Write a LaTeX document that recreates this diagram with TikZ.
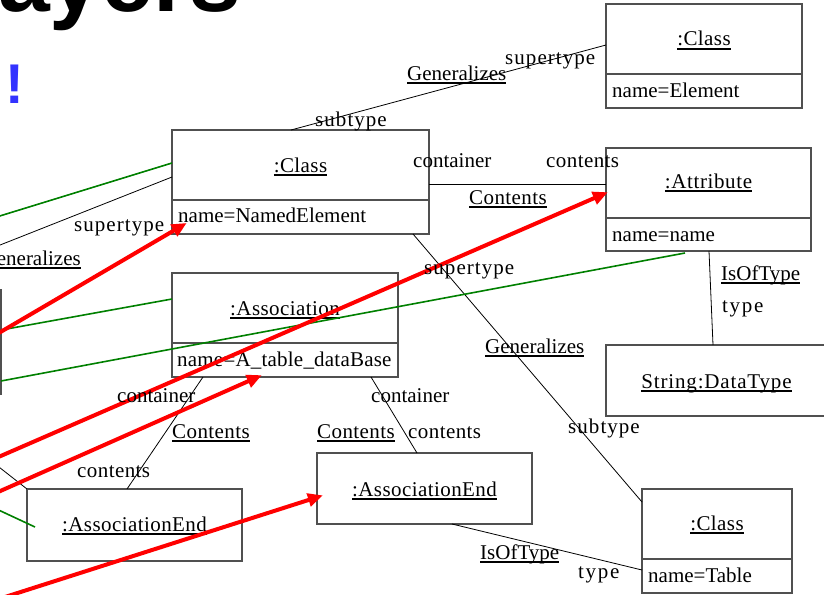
\documentclass[tikz,border=0pt]{standalone}
\usepackage{fontspec}
\setmainfont{Liberation Serif}
\newfontfamily\headfont{Liberation Sans}
\usetikzlibrary{arrows.meta}

\definecolor{boxgray}{RGB}{80,80,80}
\definecolor{linkgreen}{RGB}{0,128,0}
\definecolor{bangblue}{RGB}{51,51,255}

% underlined object names and association names
\newcommand\ulbox[1]{\setbox0\hbox{#1}\rlap{\rule[-3.5pt]{\wd0}{1.6pt}}\box0}
% role names set a little wider
\newcommand\spaced[2]{{\addfontfeature{LetterSpace=#1}#2}}

\begin{document}
\begin{tikzpicture}[x=1pt,y=-1pt,
  obj/.style={draw=boxgray, line width=1.2pt, fill=white, inner sep=0pt,
              outer sep=0pt, anchor=north west},
  divider/.style={draw=boxgray, line width=1.2pt},
  txt/.style={inner sep=0pt, anchor=base west, font=\fontsize{21}{24}\selectfont},
  ttl/.style={txt, anchor=base},
  link/.style={draw=black, line width=0.8pt},
  glink/.style={draw=linkgreen, line width=1.6pt},
  rlink/.style={draw=red, line width=4pt,
                -{Triangle[length=15pt,width=13pt]}, shorten >=-2pt}]
\clip (0,0) rectangle (824,594);

% slide heading remnants
\node[inner sep=0pt, anchor=base west, font=\headfont\bfseries\fontsize{93}{95}\selectfont]
  (head) at (-2,12) {ayers};
\node[inner sep=0pt, anchor=base west, text=bangblue,
      font=\headfont\bfseries\fontsize{56}{60}\selectfont] (bang) at (5,103) {!};

% object boxes
\node[obj, minimum width=196, minimum height=104] (cE)  at (606,4)   {};
\node[obj, minimum width=257, minimum height=104] (cNE) at (172,130) {};
\node[obj, minimum width=205, minimum height=103] (att) at (606,148) {};
\node[obj, minimum width=226, minimum height=104] (asc) at (172,273) {};
\node[obj, minimum width=221, minimum height=71]  (str) at (606,345) {};
\node[obj, minimum width=215, minimum height=72]  (ae1) at (27,489)  {};
\node[obj, minimum width=215, minimum height=71]  (ae2) at (317,453) {};
\node[obj, minimum width=150, minimum height=104] (cT)  at (642,489) {};
\node[obj, anchor=north east, minimum width=120, minimum height=104] (lb) at (1,290) {};

% compartments
\foreach \b in {cE,cNE,att,asc,cT}
  \draw[divider] ([yshift=-70pt]\b.north west) -- ([yshift=-70pt]\b.north east);

% box texts
\node[ttl] (cEt)  at ([yshift=-42pt]cE.north)  {\ulbox{\spaced{2}{:Class}}};
\node[txt] (cEa)  at ([xshift=6pt,yshift=-93pt]cE.north west) {name=Element};
\node[ttl] (cNEt) at ([yshift=-42pt]cNE.north) {\ulbox{\spaced{2}{:Class}}};
\node[txt] (cNEa) at ([xshift=6pt,yshift=-92pt]cNE.north west) {name=NamedElement};
\node[ttl] (attt) at ([yshift=-40pt]att.north) {\ulbox{\spaced{3}{:Attribute}}};
\node[txt] (atta) at ([xshift=6pt,yshift=-93pt]att.north west) {name=name};
\node[ttl] (asct) at ([yshift=-42pt]asc.north) {\ulbox{\spaced{2}{:Association}}};
\node[txt] (asca) at ([xshift=5pt,yshift=-93pt]asc.north west) {\spaced{1}{name=A\_table\_dataBase}};
\node[ttl] (strt) at ([yshift=-43pt]str.north) {\ulbox{\spaced{4}{String:DataType}}};
\node[ttl] (ae1t) at ([yshift=-42pt]ae1.north) {\ulbox{\spaced{2}{:AssociationEnd}}};
\node[ttl] (ae2t) at ([yshift=-43pt]ae2.north) {\ulbox{\spaced{2}{:AssociationEnd}}};
\node[ttl] (cTt)  at ([yshift=-41pt]cT.north)  {\ulbox{\spaced{2}{:Class}}};
\node[txt] (cTa)  at ([xshift=6pt,yshift=-93pt]cT.north west) {name=Table};

% free ends of connectors leaving the picture on the left
\coordinate (inG)  at (-10,219);
\coordinate (inK)  at (-10,249);
\coordinate (inK2) at (-10,460);
\coordinate (inG2) at (-10,506);
\coordinate (inR1) at (-20,344);
\coordinate (inR2) at (-20,465);
\coordinate (inR3) at (-20,500);
\coordinate (inR4) at (-20,605);

% associations
\draw[link] ([xshift=119pt]cNE.north west) -- ([yshift=-41pt]cE.north west);
\draw[link] (inK) -- ([yshift=-47pt]cNE.north west);
\draw[link] ([xshift=241pt]cNE.south west) -- ([yshift=-13pt]cT.north west);
\draw[link] ([yshift=-54pt]cNE.north east) -- ([yshift=-36pt]att.north west);
\draw[link] ([xshift=103pt]att.south west) -- ([xshift=107pt]str.north west);
\draw[link] ([xshift=31pt]asc.south west) -- ([xshift=100pt]ae1.north west);
\draw[link] ([xshift=199pt]asc.south west) -- ([xshift=100pt]ae2.north west);
\draw[link] ([xshift=135pt]ae2.south west) -- ([yshift=-81pt]cT.north west);
\draw[link] (inK2) -- (ae1.north west);

% instance-of links
\draw[glink] (inG) -- ([yshift=-33pt]cNE.north west);
\draw[glink] ([yshift=-40pt]lb.north east) -- ([yshift=-26pt]asc.north west);
\draw[glink] ([yshift=-91pt]lb.north east) -- ([xshift=79pt,yshift=-2pt]att.south west);
\draw[glink] (inG2) -- ([xshift=8pt,yshift=-38pt]ae1.north west);

% mapping arrows
\draw[rlink] (inR1) -- ([xshift=13pt,yshift=-94pt]cNE.north west);
\draw[rlink] (inR2) -- ([yshift=-45pt]att.north west);
\draw[rlink] (inR3) -- ([xshift=88pt,yshift=1pt]asc.south west);
\draw[rlink] (inR4) -- ([xshift=4pt,yshift=-43pt]ae2.north west);

% association and role names
\node[txt] (l1)  at (505,65)  {\spaced{5}{supertype}};
\node[txt] (l2)  at (407,80)  {\ulbox{Generalizes}};
\node[txt] (l3)  at (315,126) {\spaced{5}{subtype}};
\node[txt] (l4)  at (413,167) {container};
\node[txt] (l5)  at (546,167) {\spaced{2}{contents}};
\node[txt] (l6)  at (469,204) {\ulbox{\spaced{2}{Contents}}};
\node[txt] (l7)  at (74,231)  {\spaced{5}{supertype}};
\node[txt, anchor=base east] (l8) at (81,265) {\ulbox{Generalizes}};
\node[txt] (l9)  at (424,274) {\spaced{5}{supertype}};
\node[txt] (l10) at (485,353) {\ulbox{Generalizes}};
\node[txt] (l11) at (568,433) {\spaced{5}{subtype}};
\node[txt] (l12) at (721,280) {\ulbox{IsOfType}};
\node[txt] (l13) at (722,312) {\spaced{8}{type}};
\node[txt] (l14) at (117,402) {container};
\node[txt] (l15) at (172,438) {\ulbox{\spaced{2}{Contents}}};
\node[txt] (l16) at (77,477)  {\spaced{2}{contents}};
\node[txt] (l17) at (371,402) {container};
\node[txt] (l18) at (317,438) {\ulbox{\spaced{2}{Contents}}};
\node[txt] (l19) at (408,438) {\spaced{2}{contents}};
\node[txt] (l20) at (480,559) {\ulbox{IsOfType}};
\node[txt] (l21) at (578,578) {\spaced{8}{type}};
\end{tikzpicture}
\end{document}
